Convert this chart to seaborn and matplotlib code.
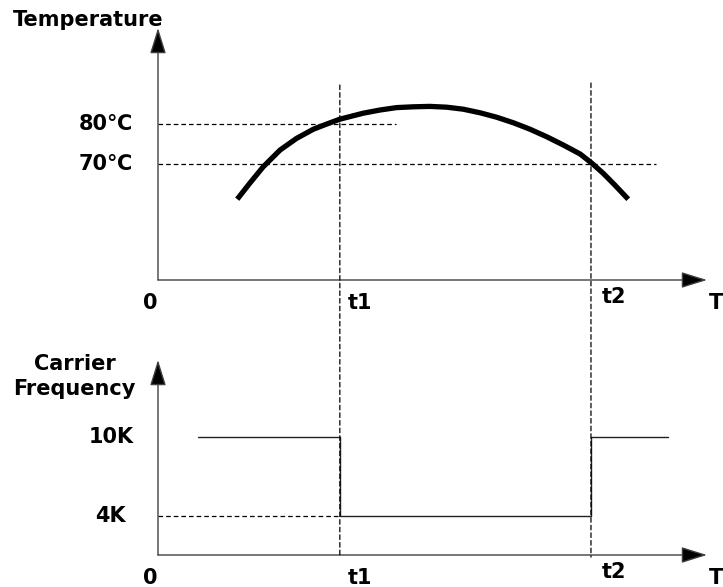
import matplotlib
matplotlib.use("Agg")
import matplotlib.pyplot as plt
import seaborn as sns
from matplotlib.patches import ConnectionPatch

# time axis in arbitrary units (origin = 0, t2 = 10)
t1 = 4.2
t2 = 10.0
time_end = 12.68
time_labels = ["0", "t1", "t2", "T"]

# temperature curve
curve_time = [1.83, 2.12, 2.43, 2.82, 3.20, 3.59, 3.90, 4.20, 4.74, 5.13,
              5.51, 5.90, 6.28, 6.67, 7.05, 7.44, 7.82, 8.21, 8.59, 8.98,
              9.36, 9.75, 10.02, 10.28, 10.55, 10.86]
curve_temp = [61.2, 65.2, 69.3, 73.5, 76.4, 78.7, 80.0, 81.2, 82.7, 83.5,
              84.1, 84.3, 84.4, 84.2, 83.7, 82.8, 81.7, 80.3, 78.7, 76.8,
              74.75, 72.5, 70.2, 67.7, 64.75, 61.2]
temp_ticks = [80, 70]
temp_labels = ["80℃", "70℃"]
temp_guide_end = [5.5, 11.5]
temp_lim = (41, 104)

# carrier frequency (kHz)
freq_time = [0.92, t1, t1, t2, t2, 11.78]
freq_vals = [10, 10, 4, 4, 10, 10]
freq_ticks = [10, 4]
freq_labels = ["10K", "4K"]
freq_lim = (1.04, 15.85)

sns.set_style("white")
plt.rcParams["font.family"] = ["DejaVu Sans"]
plt.rcParams["text.color"] = "black"
FS = 15

fig = plt.figure(figsize=(7.23, 5.87), dpi=100)
W, H = 723, 587
ax_top = fig.add_axes([158 / W, (H - 280) / H, 549 / W, 252 / H])
ax_bot = fig.add_axes([158 / W, (H - 555) / H, 549 / W, 195 / H])

dash = (0, (3.7, 2.4))
arrow = dict(arrowstyle="-|>,head_length=1.6,head_width=0.5", mutation_scale=10,
             ec="#404040", fc="black", lw=1.0, shrinkA=0, shrinkB=0)


def draw_axes(ax, ylim):
    ax.set_xlim(0, time_end)
    ax.set_ylim(*ylim)
    ax.axis("off")
    ax.annotate("", xy=(time_end, ylim[0]), xytext=(0, ylim[0]),
                arrowprops=arrow, annotation_clip=False)
    ax.annotate("", xy=(0, ylim[1]), xytext=(0, ylim[0]),
                arrowprops=arrow, annotation_clip=False)
    offsets = [(-5.8, -16.5, "center"), (5.8, -16.5, "left"),
               (8, -12.5, "left"), (1.4, -16.5, "left")]
    for lab, x, (dx, dy, ha) in zip(time_labels, [0, t1, t2, time_end], offsets):
        ax.annotate(lab, xy=(x, ylim[0]), xytext=(dx, dy), textcoords="offset points",
                    ha=ha, va="center", fontsize=FS, fontweight="bold",
                    annotation_clip=False)


# top panel: temperature
draw_axes(ax_top, temp_lim)
sns.lineplot(x=curve_time, y=curve_temp, sort=False, estimator=None, ax=ax_top,
             color="black", lw=3.8, solid_capstyle="butt", solid_joinstyle="round")
for val, lab, end in zip(temp_ticks, temp_labels, temp_guide_end):
    ax_top.plot([0, end], [val, val], color="black", lw=0.9, ls=dash)
    ax_top.annotate(lab, xy=(0, val), xytext=(-37.5, 0), textcoords="offset points",
                    ha="center", va="center", fontsize=FS, fontweight="bold",
                    annotation_clip=False)
ax_top.annotate("Temperature", xy=(0, temp_lim[1]), xytext=(-50, 5.8),
                textcoords="offset points", ha="center", va="center",
                fontsize=FS, fontweight="bold", annotation_clip=False)

# bottom panel: carrier frequency
draw_axes(ax_bot, freq_lim)
sns.lineplot(x=freq_time, y=freq_vals, sort=False, estimator=None, ax=ax_bot,
             color="#222222", lw=1.0)
ax_bot.plot([0, t1], [4, 4], color="black", lw=0.9, ls=dash)
for val, lab in zip(freq_ticks, freq_labels):
    ax_bot.annotate(lab, xy=(0, val), xytext=(-34, 0), textcoords="offset points",
                    ha="center", va="center", fontsize=FS, fontweight="bold",
                    annotation_clip=False)
ax_bot.annotate("Carrier\nFrequency", xy=(0, freq_lim[1]), xytext=(-60, -12),
                textcoords="offset points", ha="center", va="center",
                multialignment="center", linespacing=1.35,
                fontsize=FS, fontweight="bold", annotation_clip=False)

# dashed time markers spanning both panels
for t, top in zip([t1, t2], [89.75, 90.25]):
    con = ConnectionPatch(xyA=(t, top), coordsA=ax_top.transData,
                          xyB=(t, 0.88), coordsB=ax_bot.transData,
                          color="black", lw=0.9, ls=dash)
    fig.add_artist(con)

fig.savefig("out.png", dpi=100)
